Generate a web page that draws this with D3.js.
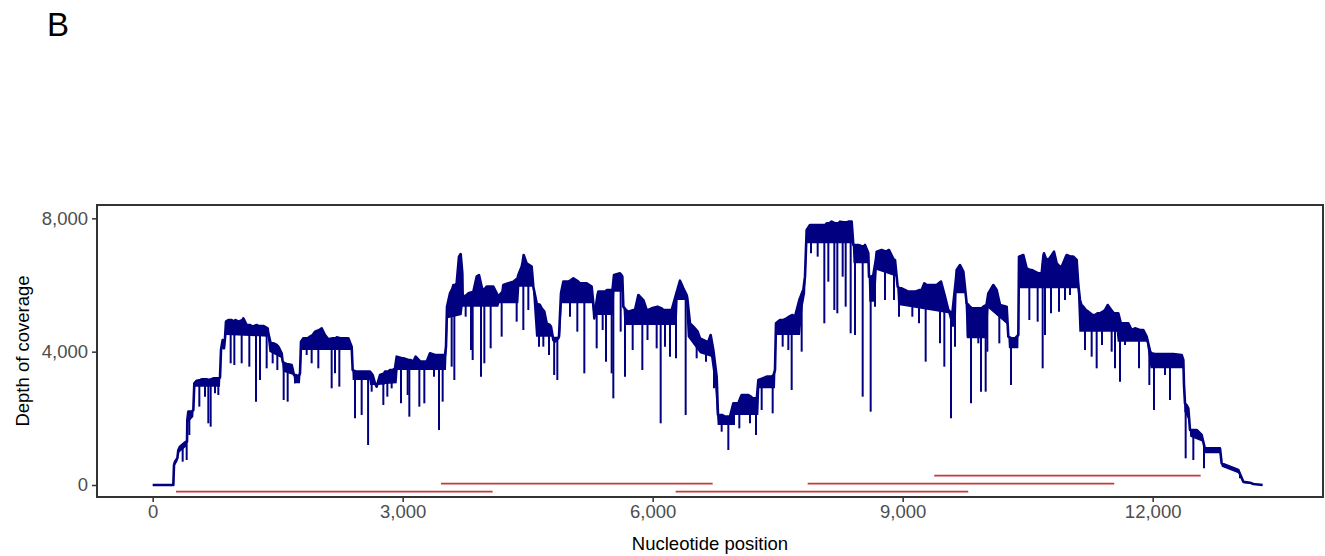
<!DOCTYPE html>
<html>
<head>
<meta charset="utf-8">
<script src="https://cdn.jsdelivr.net/npm/d3@7"></script>
<style>
  html, body { margin: 0; padding: 0; background: #fff; }
  svg { display: block; }
  text { font-family: "Liberation Sans", Arial, sans-serif; }
</style>
</head>
<body>
<svg id="chart" width="1325" height="556"></svg>
<script>
// ---------------- data ----------------
const panelLabel = "B";
const xTicks = [0, 3000, 6000, 9000, 12000];
const yTicks = [0, 4000, 8000];
const xTitle = "Nucleotide position";
const yTitle = "Depth of coverage";

// coverage profile (upper envelope): [nucleotide position, depth]
const coverage = [
[0,0],[248,0],[256,600],[268,700],[296,800],[308,1050],[328,1150],[376,1250],[400,1300],[412,1300],[416,1950],[428,2200],[452,2200],[468,2200],[488,2250],[500,3050],[528,3130],[572,3150],[588,3170],[640,3170],[648,3170],[680,3150],[710,3180],[728,3200],[768,3200],[800,3200],[808,3230],[820,4050],[840,4350],[856,4100],[868,4400],[880,4900],[908,4950],[950,4950],[968,4900],[995,4950],[1028,4900],[1080,4950],[1088,5000],[1128,4800],[1172,4800],[1188,4750],[1252,4800],[1268,4770],[1300,4770],[1328,4770],[1380,4700],[1388,4550],[1416,4250],[1452,4250],[1488,4200],[1508,4150],[1548,3950],[1560,3700],[1584,3650],[1608,3630],[1632,3620],[1668,3600],[1696,3300],[1720,3300],[1748,3250],[1768,3350],[1780,4300],[1808,4400],[1860,4400],[1888,4450],[1920,4500],[1948,4600],[2000,4650],[2028,4700],[2068,4500],[2108,4370],[2160,4400],[2200,4400],[2208,4430],[2252,4400],[2288,4400],[2348,4400],[2388,4150],[2400,3450],[2440,3400],[2468,3400],[2520,3400],[2548,3400],[2596,3400],
[2608,3400],[2640,3300],[2668,3050],[2688,2950],[2728,3300],[2778,3350],[2788,3400],[2828,3400],[2848,3450],[2880,3450],[2908,3500],[2928,3850],[2992,3800],[3008,3800],[3070,3750],[3092,3750],[3128,3700],[3156,3850],[3212,3700],[3228,3700],[3272,3700],[3288,3700],[3328,3950],[3388,3900],[3408,3900],[3448,3900],[3460,3900],[3492,3900],[3508,3900],[3520,4150],[3532,5350],[3568,5750],[3598,5900],[3608,6000],[3632,6000],[3648,6050],[3676,6850],[3696,6930],[3716,6350],[3720,5700],[3748,5650],[3768,5700],[3788,5750],[3830,5780],[3848,5800],[3888,6250],[3916,6300],[3952,5900],[3956,5850],[3992,5900],[4008,5950],[4068,5950],[4088,5950],[4148,5650],[4198,5800],[4208,6000],[4268,6050],[4328,6100],[4378,6200],[4388,6300],[4428,6550],[4440,6700],[4452,6900],[4488,6650],[4520,6600],[4548,6550],[4568,5950],[4608,5450],[4648,5400],[4668,5300],[4700,5200],[4728,4850],[4766,4800],[4780,4750],[4808,4350],[4828,4300],[4866,4400],[4876,4450],[4900,5750],[4928,6100],[4988,6100],[5020,6150],[5048,6200],[5108,6100],[5128,6050],[5192,6050],[5208,6050],[5268,5950],
[5288,5450],[5300,5000],[5338,5700],[5348,5800],[5410,5800],[5428,5800],[5452,5850],[5480,5850],[5518,5850],[5536,6300],[5608,6350],[5626,6300],[5636,6250],[5648,5350],[5680,5250],[5708,5200],[5770,5250],[5788,5250],[5828,5700],[5884,5550],[5888,5550],[5928,5250],[5948,5250],[5988,5300],[6058,5350],[6108,5300],[6128,5250],[6160,5250],[6218,5250],[6228,5250],[6290,5800],[6296,5850],[6328,6130],[6368,5900],[6408,5700],[6416,5600],[6448,4850],[6488,4750],[6540,4600],[6568,4400],[6650,4300],[6668,4300],[6696,4500],[6728,4050],[6748,3650],[6768,3250],[6784,2100],[6836,2100],[6868,2050],[6918,2050],[6928,2050],[6968,2450],[6986,2450],[7028,2450],[7050,2600],[7068,2700],[7148,2700],[7178,2650],[7200,2600],[7250,2600],[7268,3150],[7318,3200],[7368,3250],[7428,3250],[7450,3300],[7468,3450],[7480,4850],[7528,4950],[7570,4950],[7608,5000],[7638,5050],[7678,5100],[7708,5050],[7760,5550],[7798,5800],[7808,5850],[7828,6250],[7848,7650],[7888,7800],[7912,7800],[7968,7800],
[7992,7800],[8028,7800],[8072,7800],[8088,7850],[8120,7850],[8148,7900],[8192,7850],[8228,7850],[8248,7900],[8292,7880],[8328,7880],[8348,7900],[8388,7900],[8408,7200],[8440,7200],[8468,7200],[8530,7150],[8548,7200],[8588,6950],[8596,6250],[8628,6250],[8648,6300],[8680,6800],[8688,7000],[8748,7050],[8800,7000],[8836,7050],[8904,6700],[8908,6750],[8940,5950],[8966,5900],[8988,5900],[9068,5800],[9126,5800],[9148,5800],[9206,5850],[9228,5850],[9260,6050],[9286,6000],[9328,6000],[9366,6000],[9408,6000],[9456,6100],[9460,6100],[9508,5650],[9548,5250],[9590,5150],[9596,5150],[9640,6200],[9648,6450],[9688,6600],[9728,6400],[9768,5450],[9790,5400],[9808,5350],[9830,5300],[9868,5300],[9918,5300],[9950,5300],[9968,5350],[10006,5400],[10028,5750],[10088,6000],[10128,5850],[10168,5400],[10248,5350],[10268,4450],[10310,4400],[10348,4400],[10388,4500],[10396,6850],[10448,6900],[10488,6500],[10530,6450],[10548,6450],[10630,6350],[10668,6350],
[10690,6900],[10696,6950],[10718,6800],[10748,6750],[10790,6900],[10816,7000],[10848,6650],[10886,6550],[10908,6550],[10958,6850],[10968,6900],[11018,6850],[11048,6850],[11088,6750],[11108,6000],[11128,5550],[11146,5400],[11168,5350],[11198,5250],[11228,5200],[11278,5100],[11308,5100],[11338,5150],[11368,5150],[11402,5200],[11428,5250],[11460,5400],[11518,5200],[11536,5150],[11558,5150],[11588,5150],[11618,4850],[11628,4850],[11678,4850],[11708,4850],[11748,4650],[11788,4700],[11846,4650],[11888,4650],[11928,4450],[11970,4000],[11988,3950],[12026,3930],[12048,3930],[12158,3930],[12168,3930],[12218,3930],[12248,3930],[12348,3900],[12368,3750],[12376,3000],[12388,2450],[12406,2400],[12428,2300],[12448,1650],[12498,1650],[12528,1650],[12588,1500],[12626,1100],[12648,1100],[12808,1100],[12828,650],[12928,550],[13028,450],[13088,100],[13168,70],[13208,30],[13320,0]
];

// lower edge of the dense noise band: [nucleotide position, depth]
const coverageLow = [
[0,0],[248,0],[256,550],[296,700],[308,950],[400,1150],[416,1850],[488,2050],[500,2950],[808,2950],[820,3900],[840,4150],[880,4500],[1380,4450],[1400,4000],[1548,3800],[1565,3400],[1690,3300],[1700,3050],[1768,3050],[1790,4050],[2100,4050],[2388,4050],[2400,3150],[2600,3150],[2610,3000],[2928,3050],[2940,3450],[3520,3450],[3540,5000],[3708,5100],[3720,5350],[4148,5350],[4160,5450],[4388,5450],[4400,5950],[4560,5950],[4600,4450],[4888,4450],[4910,5450],[5270,5450],[5290,5100],[5528,5100],[5540,5800],[5640,5800],[5660,4800],[6288,4800],[6300,5550],[6400,5550],[6420,4450],[6568,3950],[6700,3850],[6750,2950],[6780,1800],[6968,1800],[6975,2100],[7268,2100],[7280,2900],[7468,2900],[7485,4500],[7768,4500],[7800,5350],[7830,5750],[7850,7250],[8400,7250],[8410,6650],[8588,6650],[8600,5500],[8668,5500],[8690,6450],[8928,6450],[8945,5400],[9548,5150],[9590,4750],[9636,4750],[9648,5750],[9750,5750],[9770,4400],[10008,4400],[10030,5300],[10260,5300],[10275,4100],[10388,4100],[10400,5900],[11100,5900],[11120,4600],[11568,4600],[11580,4300],[11928,4300],[11975,3500],[12368,3500],[12380,2200],[12440,1950],[12450,1450],[12600,1300],[12630,950],[12808,950],[12828,550],[12928,450],[13028,350],[13088,50],[13320,0]
];

// sharp coverage dropouts: [nucleotide position, minimum depth]
const dropouts = [
[360,700],[408,750],[440,1500],[560,2350],[628,2650],[668,1850],[696,1750],[748,2750],[788,2700],[936,3650],[980,3600],[1068,3650],[1160,3550],[1240,2500],[1288,3150],[1368,3500],[1440,3650],[1496,3450],[1572,2550],[1620,2500],[1708,3050],[1848,3900],[1908,3650],[1988,3500],[2148,2900],[2188,3350],[2240,2950],[2428,2000],[2508,2100],[2585,1200],
[2628,2800],[2768,2400],[2816,2650],[2868,2900],[2980,2450],[3060,2700],[3080,2050],[3200,2350],[3260,2450],[3376,3250],[3436,1650],[3480,2500],[3588,3550],[3620,3150],[3756,5050],[3820,4050],[3840,3750],[3940,3250],[3980,3650],[4056,4100],[4188,4450],[4368,4900],[4448,4650],[4508,5250],[4636,4150],[4688,4150],[4756,3900],[4818,3300],[4856,3150],[5008,5050],[5096,4600],[5180,3350],
[5328,4100],[5400,4650],[5440,3700],[5508,3350],[5528,2600],[5616,4600],[5668,3250],[5760,4050],[5876,3450],[5938,4350],[6048,4100],[6096,1850],[6148,4150],[6208,3850],[6280,3800],[6396,2100],[6528,3800],[6640,3700],[6736,2900],[6828,1600],[6908,1050],[6976,1800],[7040,1700],[7168,1850],[7240,1500],[7308,2250],[7440,2150],[7560,4150],[7628,4050],[7668,2850],[7788,4000],[7900,6950],
[7980,6850],[8060,4850],[8108,6100],[8180,5250],[8216,5150],[8280,6250],[8316,5350],[8376,4550],[8428,4500],[8520,2650],[8616,2200],[8668,5350],[8788,5550],[8896,5550],[8956,5050],[9116,5050],[9196,4850],[9276,3700],[9356,5350],[9448,4250],[9500,3550],[9580,2000],[9628,4150],[9780,4450],[9820,2450],[9908,4250],[9940,2800],[9996,2800],[10016,4000],[10160,4250],[10300,3000],[10520,4950],[10620,4900],
[10680,3500],[10708,4500],[10780,5150],[10876,5200],[10948,5550],[11008,5700],[11136,4950],[11188,4050],[11268,3850],[11328,3500],[11392,4200],[11508,4000],[11548,3500],[11608,3100],[11668,4200],[11836,3500],[11960,3000],[12016,2250],[12148,3300],[12208,2550],[12396,800],[12488,750],[12616,500],[13048,200]
];

// amplicon segments
const ampStart = [280, 3460, 6276, 7860, 9379];
const ampEnd   = [4080, 6720, 9787, 11539, 12576];
const ampDepth = [-200, 40, -200, 40, 280];

// ---------------- layout ----------------
const svg = d3.select("#chart");
const panel = { left: 97, right: 1323, top: 205, bottom: 497 };

const x = d3.scaleLinear().domain([-668, 14044]).range([panel.left, panel.right]);
const y = d3.scaleLinear().domain([-360, 8400]).range([panel.bottom, panel.top]);

const fmt = d3.format(",");
const navy = "#000080";

// panel label
svg.append("text").attr("x", 47).attr("y", 36)
  .attr("font-size", 33).attr("fill", "#000").text(panelLabel);

// amplicons
const amps = ampStart.map((s, i) => ({ s, e: ampEnd[i], d: ampDepth[i] }));
svg.append("g").selectAll("line").data(amps).join("line")
  .attr("x1", d => x(d.s)).attr("x2", d => x(d.e))
  .attr("y1", d => y(d.d)).attr("y2", d => y(d.d))
  .attr("stroke", "#c23b3b").attr("stroke-width", 1.6);

const bis = d3.bisector(d => d[0]).left;
function envelopeAt(p) {
  const i = Math.max(1, Math.min(coverage.length - 1, bis(coverage, p)));
  const a = coverage[i - 1], b = coverage[i];
  const t = (p - a[0]) / (b[0] - a[0] || 1);
  return a[1] + t * (b[1] - a[1]);
}

// dense band between upper envelope and lower edge
const band = coverage.map(d => [x(d[0]), y(d[1])])
  .concat(coverageLow.slice().reverse()
    .map(d => [x(d[0]), y(Math.min(d[1], envelopeAt(d[0])))]));
svg.append("path")
  .attr("d", "M" + band.map(p => p.join(",")).join("L") + "Z")
  .attr("fill", navy).attr("stroke", "none");

// coverage envelope
const line = d3.line().x(d => x(d[0])).y(d => y(d[1]));
svg.append("path").datum(coverage)
  .attr("d", line).attr("fill", "none")
  .attr("stroke", navy).attr("stroke-width", 2.6)
  .attr("stroke-linejoin", "round");

// dropouts drawn as vertical strokes hanging from the envelope
svg.append("g").selectAll("line").data(dropouts).join("line")
  .attr("x1", d => x(d[0])).attr("x2", d => x(d[0]))
  .attr("y1", d => y(envelopeAt(d[0]))).attr("y2", d => y(d[1]))
  .attr("stroke", navy).attr("stroke-width", 2);

// panel border
svg.append("rect")
  .attr("x", panel.left).attr("y", panel.top)
  .attr("width", panel.right - panel.left).attr("height", panel.bottom - panel.top)
  .attr("fill", "none").attr("stroke", "#333333").attr("stroke-width", 2);

// axes
const xAxis = d3.axisBottom(x).tickValues(xTicks).tickFormat(fmt).tickSize(5).tickPadding(3);
const gx = svg.append("g").attr("transform", `translate(0,${panel.bottom})`).call(xAxis);
const yAxis = d3.axisLeft(y).tickValues(yTicks).tickFormat(fmt).tickSize(5).tickPadding(4);
const gy = svg.append("g").attr("transform", `translate(${panel.left},0)`).call(yAxis);
[gx, gy].forEach(g => {
  g.select(".domain").remove();
  g.selectAll(".tick line").attr("stroke", "#333333").attr("stroke-width", 1.5);
  g.selectAll(".tick text").attr("fill", "#4d4d4d").attr("font-size", 18.5)
    .attr("font-family", "Liberation Sans, Arial, sans-serif");
});

// axis titles
svg.append("text").attr("x", (panel.left + panel.right) / 2).attr("y", 550)
  .attr("text-anchor", "middle").attr("font-size", 18.5).attr("fill", "#000").text(xTitle);
svg.append("text")
  .attr("transform", `translate(29,${(panel.top + panel.bottom) / 2}) rotate(-90)`)
  .attr("text-anchor", "middle").attr("font-size", 18.5).attr("fill", "#000").text(yTitle);
</script>
</body>
</html>
